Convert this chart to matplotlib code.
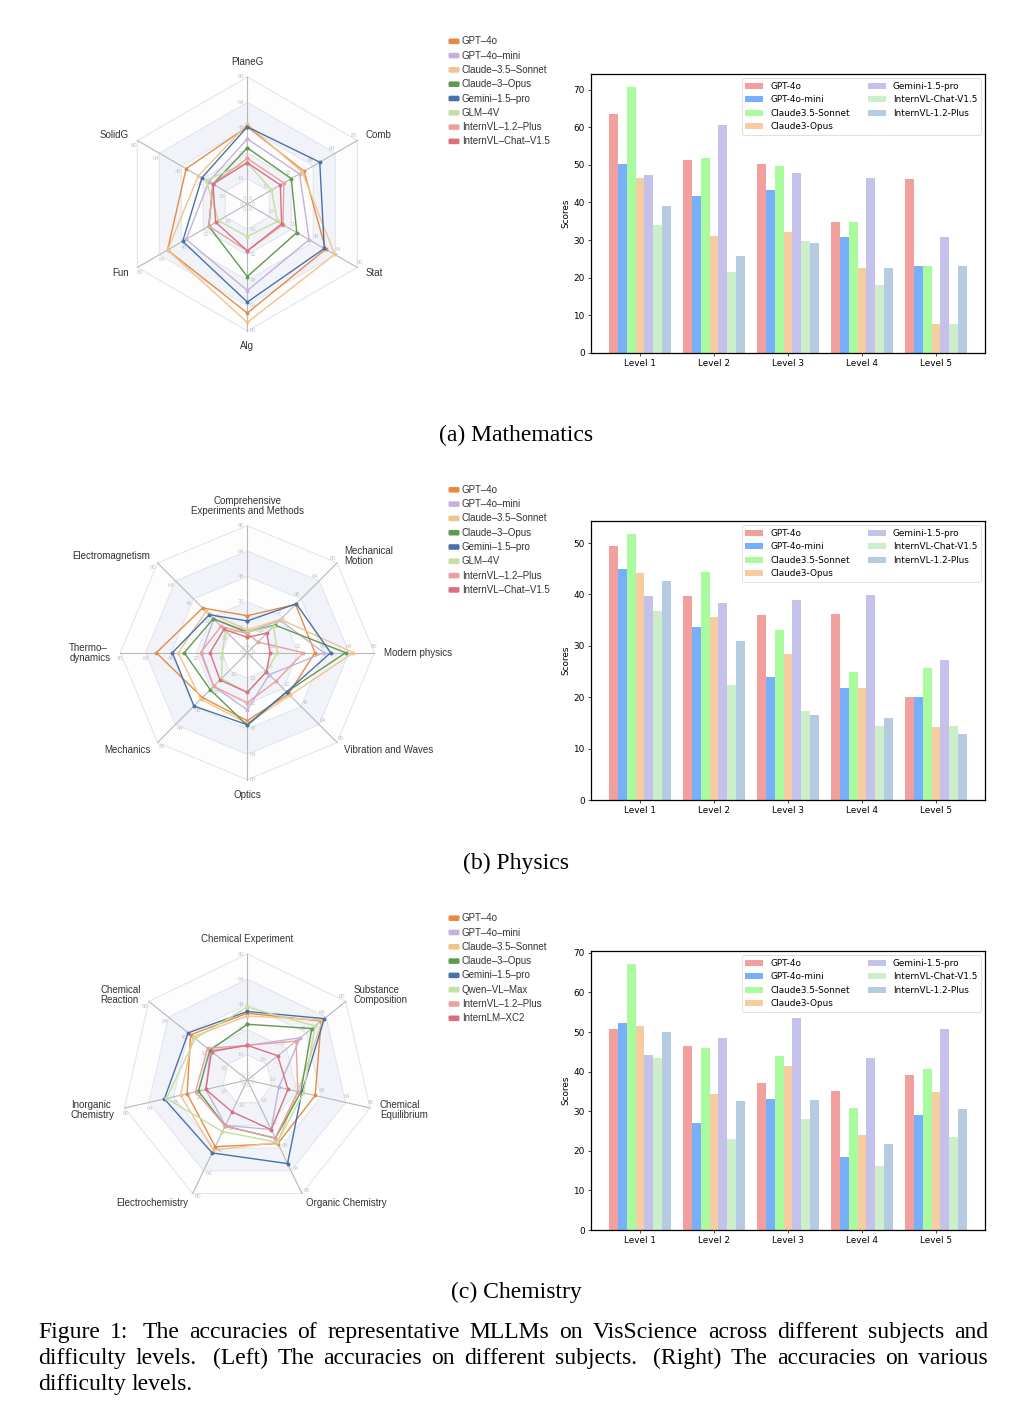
import numpy as np
import matplotlib
matplotlib.use("Agg")
import matplotlib.pyplot as plt
from matplotlib.patches import FancyBboxPatch

W, H = 1036, 1410

# ---------------- radar data ----------------
math_cats = ["PlaneG", "Comb", "Stat", "Alg", "Fun", "SolidG"]
phys_cats = ["Comprehensive\nExperiments and Methods", "Mechanical\nMotion", "Modern physics",
             "Vibration and Waves", "Optics", "Mechanics", "Thermo\u2013\ndynamics", "Electromagnetism"]
chem_cats = ["Chemical Experiment", "Substance\nComposition", "Chemical\nEquilibrium",
             "Organic Chemistry", "Electrochemistry", "Inorganic\nChemistry", "Chemical\nReaction"]

radar_models = ["GPT\u20134o", "GPT\u20134o\u2013mini", "Claude\u20133.5\u2013Sonnet", "Claude\u20133\u2013Opus",
                "Gemini\u20131.5\u2013pro", "GLM\u20134V", "InternVL\u20131.2\u2013Plus", "InternVL\u2013Chat\u2013V1.5"]
chem_models = ["GPT\u20134o", "GPT\u20134o\u2013mini", "Claude\u20133.5\u2013Sonnet", "Claude\u20133\u2013Opus",
               "Gemini\u20131.5\u2013pro", "Qwen\u2013VL\u2013Max", "InternVL\u20131.2\u2013Plus", "InternLM\u2013XC2"]
radar_colors = ["#E68A45", "#C4B2DA", "#EFC58C", "#5F9A50", "#4A71A9", "#C4DF9F", "#E9A19D", "#D9707F"]

math_radar = [
    [48.6, 41.3, 57.0, 68.7, 58.0, 44.5],
    [41.0, 38.0, 45.0, 54.5, 44.5, 28.0],
    [50.3, 40.0, 63.6, 74.6, 58.0, 35.6],
    [35.4, 32.0, 36.0, 45.7, 28.0, 25.0],
    [48.6, 52.7, 56.0, 61.8, 47.0, 33.0],
    [26.0, 17.6, 22.0, 20.5, 21.0, 30.0],
    [28.7, 26.6, 26.0, 29.5, 28.0, 25.0],
    [26.0, 24.0, 25.0, 29.5, 23.0, 25.0],
]
phys_radar = [
    [23.3, 43.0, 42.6, 36.8, 42.8, 40.0, 57.3, 39.8],
    [12.6, 29.0, 48.3, 19.6, 36.0, 30.0, 28.8, 30.0],
    [14.3, 29.7, 66.8, 38.0, 44.5, 41.5, 43.5, 36.8],
    [13.0, 24.6, 62.0, 35.0, 45.8, 33.0, 39.7, 30.3],
    [20.0, 43.6, 52.5, 35.0, 45.4, 47.5, 47.2, 33.8],
    [13.0, 23.5, 19.0, 17.0, 25.0, 23.0, 15.7, 19.3],
    [12.0, 9.5, 35.3, 25.5, 31.5, 30.0, 29.4, 23.5],
    [9.7, 17.5, 14.3, 17.0, 25.0, 24.3, 23.5, 20.8],
]
chem_radar = [
    [42.4, 60.0, 44.2, 44.8, 47.0, 39.2, 46.0],
    [22.0, 42.9, 20.5, 34.9, 32.0, 27.0, 30.0],
    [40.7, 61.0, 33.0, 44.0, 49.5, 43.5, 44.0],
    [35.4, 52.4, 34.8, 41.0, 32.5, 31.8, 30.4],
    [43.5, 62.5, 35.5, 58.9, 51.4, 54.0, 48.0],
    [46.3, 55.0, 36.6, 44.0, 36.3, 52.7, 42.3],
    [22.0, 39.6, 32.9, 40.8, 32.5, 33.7, 32.3],
    [22.0, 24.7, 26.5, 35.0, 22.4, 27.0, 29.0],
]
radar_levels = [0, 16, 32, 48, 64, 80]

# ---------------- bar data ----------------
levels = ["Level 1", "Level 2", "Level 3", "Level 4", "Level 5"]
bar_models = ["GPT-4o", "GPT-4o-mini", "Claude3.5-Sonnet", "Claude3-Opus",
              "Gemini-1.5-pro", "InternVL-Chat-V1.5", "InternVL-1.2-Plus"]
bar_colors = ["#F1A09E", "#77B0FA", "#AAFA9E", "#F6CDA0", "#C4C1EB", "#CDEECA", "#B4CBE1"]

math_bars = [
    [63.4, 51.2, 50.2, 34.8, 46.2],
    [50.2, 41.7, 43.3, 30.9, 23.2],
    [70.6, 51.8, 49.7, 34.8, 23.2],
    [46.5, 31.1, 32.2, 22.6, 7.8],
    [47.3, 60.5, 47.8, 46.5, 30.9],
    [34.0, 21.6, 29.8, 18.1, 7.8],
    [39.0, 25.8, 29.3, 22.6, 23.2],
]
phys_bars = [
    [49.4, 39.7, 36.0, 36.2, 20.1],
    [44.9, 33.6, 23.9, 21.8, 20.1],
    [51.7, 44.3, 33.1, 24.9, 25.7],
    [44.1, 35.6, 28.4, 21.8, 14.2],
    [39.7, 38.3, 38.9, 39.8, 27.2],
    [36.7, 22.4, 17.3, 14.4, 14.4],
    [42.6, 30.9, 16.6, 16.0, 12.9],
]
chem_bars = [
    [50.7, 46.4, 37.1, 35.1, 39.1],
    [52.2, 27.0, 33.1, 18.5, 29.1],
    [67.1, 45.9, 43.9, 30.8, 40.6],
    [51.5, 34.3, 41.4, 24.0, 34.8],
    [44.2, 48.4, 53.5, 43.4, 50.7],
    [43.4, 23.0, 28.0, 16.2, 23.5],
    [50.0, 32.6, 32.8, 21.7, 30.6],
]

caption_lines = [
    "Figure 1: The accuracies of representative MLLMs on VisScience across different subjects and",
    "difficulty levels. (Left) The accuracies on different subjects. (Right) The accuracies on various",
    "difficulty levels.",
]

SANS = "Liberation Sans"
SERIF = "Liberation Serif"
S = 0.64  # the bar charts look like default matplotlib figures scaled down

fig = plt.figure(figsize=(W / 100, H / 100), dpi=100)
over = fig.add_axes([0, 0, 1, 1])
over.set_xlim(0, W)
over.set_ylim(H, 0)
over.axis("off")


def draw_radar(cx, cy, cats, data, r_px=127):
    half = 175
    ax = fig.add_axes([(cx - half) / W, (H - cy - half) / H, 2 * half / W, 2 * half / H])
    lim = 80 * half / r_px
    ax.set_xlim(-lim, lim)
    ax.set_ylim(-lim, lim)
    ax.set_aspect("equal")
    ax.axis("off")
    px = 80 / r_px  # data units per pixel
    n = len(cats)
    th = np.pi / 2 - 2 * np.pi * np.arange(n) / n
    c, s = np.cos(th), np.sin(th)
    cc, sc = np.append(c, c[0]), np.append(s, s[0])

    # split areas and grid
    band = ["#FDFDFD", "#F1F3F9"]
    for k, r in enumerate(radar_levels[:0:-1]):
        ax.fill(r * cc, r * sc, color=band[k % 2], lw=0, zorder=0)
    for r in radar_levels[1:]:
        ax.plot(r * cc, r * sc, color="#E0E6F1", lw=0.8, zorder=1)
    for i in range(n):
        ax.plot([0, 80 * c[i]], [0, 80 * s[i]], color="#B8B8B8", lw=0.8, zorder=1)
        for r in radar_levels:
            ax.text(r * c[i] - 6 * px * s[i], r * s[i] + 6 * px * c[i], str(r),
                    fontsize=4.2, color="#C8C8C8", ha="center", va="center",
                    family=SANS, zorder=2)
        gx, gy = (80 + 10 * px) * c[i], (80 + 10 * px) * s[i]
        if abs(c[i]) < 0.05:
            ha, va = "center", ("bottom" if s[i] > 0 else "top")
        else:
            ha, va = ("left" if c[i] > 0 else "right"), "center"
        ax.text(gx, gy, cats[i], fontsize=7.0, color="#333333", ha=ha, va=va,
                family=SANS, linespacing=1.0, multialignment="center" if ha == "center" else "left")

    for vals, col in zip(data, radar_colors):
        v = np.append(vals, vals[0])
        ax.plot(v * cc, v * sc, color=col, lw=1.0, marker="o", ms=2.8,
                markeredgewidth=0, zorder=3)


def draw_radar_legend(y0, names):
    for i, (name, col) in enumerate(zip(names, radar_colors)):
        y = y0 + i * 14.3
        over.add_patch(FancyBboxPatch((448.5, y - 2.8), 11, 5.6,
                                      boxstyle="round,pad=0,rounding_size=1.4",
                                      fc=col, ec="none"))
        over.text(462, y, name, fontsize=7.0, color="#333333", va="center",
                  family=SANS)


def draw_bars(top_px, data):
    bottom_px = top_px + 279
    ax = fig.add_axes([591 / W, (H - bottom_px) / H, 394 / W, 279 / H])
    x = np.arange(len(levels))
    w = 0.12
    for i, (vals, col, name) in enumerate(zip(data, bar_colors, bar_models)):
        ax.bar(x + (i - 3) * w, vals, w, color=col, label=name)
    ax.set_xticks(x)
    ax.set_xticklabels(levels)
    ax.set_ylabel("Scores", fontsize=10 * S, labelpad=4 * S)
    ax.tick_params(labelsize=10 * S, length=3.5 * S, width=0.8 * S, pad=3.5 * S)
    for sp in ax.spines.values():
        sp.set_linewidth(0.9)
    leg = ax.legend(ncol=2, fontsize=10 * S, loc="upper right")
    leg.get_frame().set_linewidth(0.8 * S)


draw_radar(247.3, 204, math_cats, math_radar)
draw_radar(247.3, 652.7, phys_cats, phys_radar)
draw_radar(247.3, 1080, chem_cats, chem_radar, r_px=126)

draw_radar_legend(41.3, radar_models)
draw_radar_legend(489.8, radar_models)
draw_radar_legend(918.2, chem_models)

draw_bars(74, math_bars)
draw_bars(521, phys_bars)
draw_bars(951, chem_bars)

for label, yb in [("(a) Mathematics", 441), ("(b) Physics", 869), ("(c) Chemistry", 1298)]:
    over.text(516, yb, label, fontsize=17, family=SERIF, ha="center", va="baseline")

# justified figure caption, with wider stretch after ':' and '.' as TeX does
renderer = fig.canvas.get_renderer()
x0, x1 = 38, 988
fs = 17
base = 0.25 * fs * 100 / 72
for k, line in enumerate(caption_lines):
    yb = 1338 + k * 26
    words = line.split(" ")
    texts = [over.text(0, yb, w_, fontsize=fs, family=SERIF, va="baseline") for w_ in words]
    widths = [t.get_window_extent(renderer).width for t in texts]
    weights = [3 if w_.endswith(".") else 2 if w_.endswith(":") else 1 for w_ in words[:-1]]
    if k < len(caption_lines) - 1:
        r = (x1 - x0 - sum(widths) - base * len(weights)) / sum(weights)
    else:
        r = 0.0
    xpos = x0
    for j, (t, wd) in enumerate(zip(texts, widths)):
        t.set_x(xpos)
        if j < len(weights):
            xpos += wd + base + r * weights[j]

fig.savefig("out.png", dpi=100)
